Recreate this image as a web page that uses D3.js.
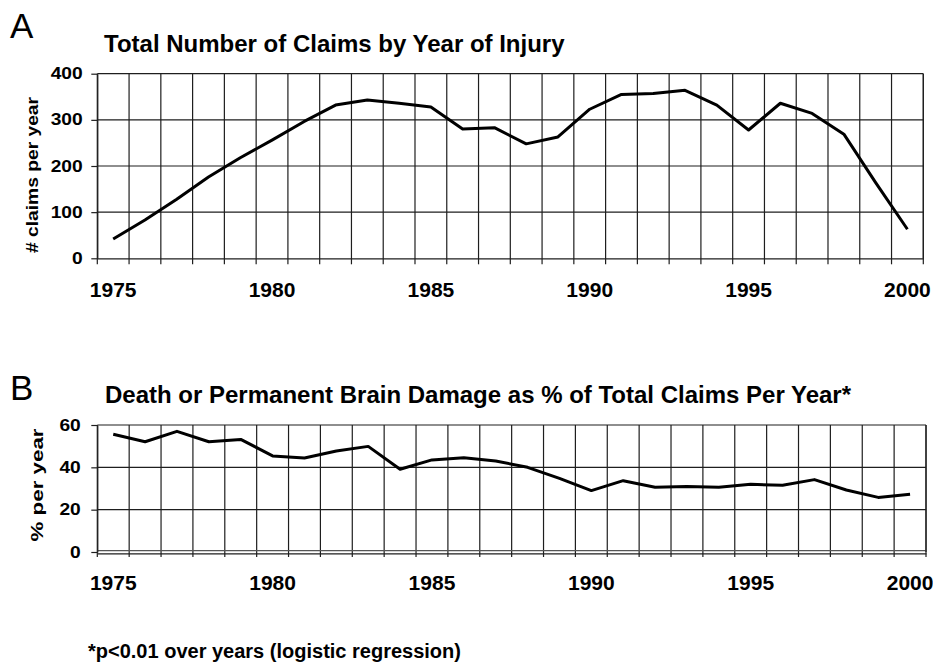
<!DOCTYPE html>
<html>
<head>
<meta charset="utf-8">
<script src="https://cdn.jsdelivr.net/npm/d3@7"></script>
<style>
  html, body { margin: 0; padding: 0; background: #fff; }
  svg { display: block; }
  text { font-family: "Liberation Sans", Arial, Helvetica, sans-serif; fill: #000; }
</style>
</head>
<body>
<svg id="chart" width="933" height="666"></svg>
<script>
// ---------- data ----------
const years = d3.range(1975, 2001);
const yearLabels = [1975, 1980, 1985, 1990, 1995, 2000];

const totalClaims = [42, 83, 128, 176, 218, 256, 296, 332, 343, 336, 328, 280, 283, 248, 263,
                     323, 355, 357, 364, 332, 278, 336, 314, 269, 164, 63];

const severePct = [55.6, 52.1, 57.0, 52.1, 53.2, 45.4, 44.4, 47.7, 49.9, 39.1, 43.5, 44.5, 43.0,
                   40.0, 34.8, 29.0, 33.7, 30.6, 31.0, 30.6, 32.0, 31.5, 34.2, 29.3, 25.8, 27.3];

const ticksA = [0, 100, 200, 300, 400];
const ticksB = [0, 20, 40, 60];

const titleA = "Total Number of Claims by Year of Injury";
const titleB = "Death or Permanent Brain Damage as % of Total Claims Per Year*";
const yLabelA = "# claims per year";
const yLabelB = "% per year";
const footnote = "*p<0.01 over years (logistic regression)";

// ---------- drawing ----------
const svg = d3.select("#chart");
const gridColor = "#1e1e1e";

function panel(cfg) {
  const g = svg.append("g");
  const x = d3.scaleBand().domain(years).range([cfg.left, cfg.right]).padding(0);
  const y = d3.scaleLinear().domain([0, cfg.max]).range([cfg.bottom, cfg.top]);
  const bw = x.bandwidth();
  const boundaries = years.map(d => x(d)).concat([cfg.right]);

  // horizontal gridlines
  g.append("g").selectAll("line").data(cfg.ticks.filter(d => d > 0)).join("line")
    .attr("x1", cfg.left).attr("x2", cfg.right)
    .attr("y1", d => y(d)).attr("y2", d => y(d))
    .attr("stroke", gridColor).attr("stroke-width", 1.2);

  // vertical gridlines + ticks below axis
  g.append("g").selectAll("line").data(boundaries).join("line")
    .attr("x1", d => d).attr("x2", d => d)
    .attr("y1", cfg.top).attr("y2", cfg.bottom + cfg.tickLen)
    .attr("stroke", gridColor).attr("stroke-width", 1.2);

  if (cfg.doubleBase) {
    g.append("line")
      .attr("x1", cfg.left).attr("x2", cfg.right)
      .attr("y1", y(0) - 1.4).attr("y2", y(0) - 1.4)
      .attr("stroke", "#555").attr("stroke-width", 1.1);
  }

  // y axis
  const yAxis = d3.axisLeft(y).tickValues(cfg.ticks).tickSize(6).tickSizeOuter(0);
  const ya = g.append("g").attr("transform", `translate(${cfg.left},0)`).call(yAxis);
  ya.select(".domain").attr("stroke", gridColor).attr("stroke-width", 1.2);
  ya.selectAll(".tick line").attr("stroke", gridColor).attr("stroke-width", 1.2);
  ya.selectAll(".tick text")
    .attr("x", -cfg.labelGap / 1.2)
    .attr("transform", "scale(1.2,1)")
    .attr("font-size", 16).attr("font-weight", "bold")
    .attr("font-family", "'Liberation Sans', Arial, sans-serif");

  // x axis (labels at band centres)
  const xAxis = d3.axisBottom(x).tickValues(yearLabels).tickSize(0).tickPadding(0);
  const xa = g.append("g").attr("transform", `translate(0,${cfg.bottom + (cfg.doubleBase ? 1.4 : 0)})`).call(xAxis);
  xa.select(".domain").attr("stroke", gridColor).attr("stroke-width", 1.2);
  xa.selectAll(".tick text")
    .attr("y", cfg.xLabelBase - cfg.bottom).attr("dy", 0)
    .attr("font-size", 21).attr("font-weight", "bold")
    .attr("font-family", "'Liberation Sans', Arial, sans-serif");

  // right border
  g.append("line").attr("x1", cfg.right).attr("x2", cfg.right)
    .attr("y1", cfg.top).attr("y2", cfg.bottom)
    .attr("stroke", gridColor).attr("stroke-width", 1.2);

  // data line
  const line = d3.line()
    .x((d, i) => x(years[i]) + bw / 2)
    .y(d => y(d));
  g.append("path").datum(cfg.values)
    .attr("d", line)
    .attr("fill", "none").attr("stroke", "#000")
    .attr("stroke-width", 3).attr("stroke-linejoin", "round");

  // title
  g.append("text").attr("x", cfg.titleX).attr("y", cfg.titleY)
    .attr("font-size", 24).attr("font-weight", "bold").text(cfg.title);

  // panel letter
  g.append("text").attr("x", 10).attr("y", cfg.letterY)
    .attr("font-size", 35).text(cfg.letter);

  // y label
  g.append("text")
    .attr("transform", `translate(${cfg.yLabelX},${cfg.yLabelY}) rotate(-90)`)
    .attr("text-anchor", "middle")
    .attr("font-size", 17).attr("font-weight", "bold")
    .attr("textLength", cfg.yLabelLen).attr("lengthAdjust", "spacingAndGlyphs")
    .text(cfg.yLabel);
}

panel({
  left: 97.3, right: 923.3, top: 73.7, bottom: 258.3, max: 400,
  ticks: ticksA, values: totalClaims, tickLen: 6, labelGap: 14.6,
  xLabelBase: 296.7, title: titleA, titleX: 104, titleY: 51.5,
  letter: "A", letterY: 37.5,
  yLabel: yLabelA, yLabelX: 37.5, yLabelY: 175, yLabelLen: 156
});

panel({
  left: 97.3, right: 926, top: 425, bottom: 552, max: 60,
  ticks: ticksB, values: severePct, tickLen: 5, labelGap: 16.6, doubleBase: true,
  xLabelBase: 588.3, title: titleB, titleX: 105, titleY: 403,
  letter: "B", letterY: 400,
  yLabel: yLabelB, yLabelX: 43.3, yLabelY: 485, yLabelLen: 113
});

svg.append("text").attr("x", 88).attr("y", 658)
  .attr("font-size", 20).attr("font-weight", "bold").text(footnote);
</script>
</body>
</html>
